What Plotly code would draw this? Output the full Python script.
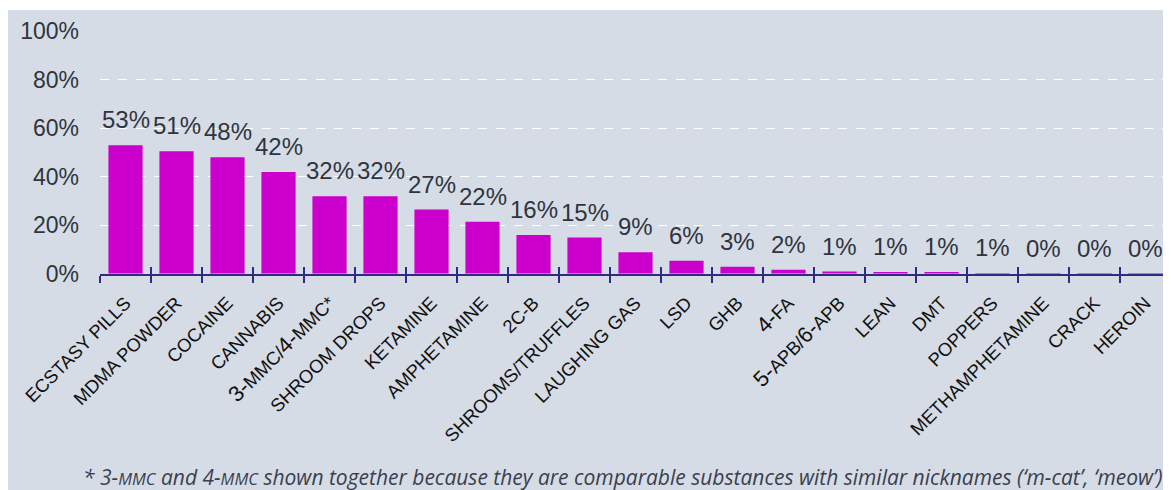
import plotly.graph_objects as go

categories = ["ECSTASY PILLS", "MDMA POWDER", "COCAINE", "CANNABIS", "3-MMC/4-MMC*",
              "SHROOM DROPS", "KETAMINE", "AMPHETAMINE", "2C-B", "SHROOMS/TRUFFLES",
              "LAUGHING GAS", "LSD", "GHB", "4-FA", "5-APB/6-APB", "LEAN", "DMT",
              "POPPERS", "METHAMPHETAMINE", "CRACK", "HEROIN"]
tick_labels = ["ECSTASY PILLS", "MDMA POWDER", "COCAINE", "CANNABIS",
               "<span style='font-size:22px'>3-</span>MMC/<span style='font-size:22px'>4-</span>MMC*",
               "SHROOM DROPS", "KETAMINE", "AMPHETAMINE", "2C-B", "SHROOMS/TRUFFLES",
               "LAUGHING GAS", "LSD", "GHB", "<span style='font-size:22px'>4-</span>FA",
               "<span style='font-size:22px'>5-</span>APB/<span style='font-size:22px'>6-</span>APB",
               "LEAN", "DMT", "POPPERS", "METHAMPHETAMINE", "CRACK", "HEROIN"]
values = [0.53, 0.505, 0.48, 0.42, 0.32, 0.32, 0.265, 0.215, 0.16, 0.15, 0.09, 0.055,
          0.03, 0.017, 0.01, 0.008, 0.007, 0.004, 0.0015, 0.001, 0.001]
value_labels = ["53%", "51%", "48%", "42%", "32%", "32%", "27%", "22%", "16%", "15%", "9%",
                "6%", "3%", "2%", "1%", "1%", "1%", "1%", "0%", "0%", "0%"]

BG = "#D6DCE5"
TXT = "#2E3440"
AXIS = "#2E2A86"

# figure coords (page has an 8px body margin)
W, H = 1163, 482
L, T, B = 92, 23, 216
PW, PH = W - L, H - T - B

fig = go.Figure()
fig.add_trace(go.Bar(
    x=categories, y=values,
    marker=dict(color="#CC00CC", line=dict(width=0)),
    hoverinfo="skip"))
# invisible trace on overlay axis for inside ticks
fig.add_trace(go.Bar(x=categories, y=[0]*len(categories), xaxis="x2",
                     marker=dict(color="rgba(0,0,0,0)"), showlegend=False,
                     hoverinfo="skip"))

for c, v, t in zip(categories, values, value_labels):
    fig.add_annotation(x=c, y=v, text=t, showarrow=False, yanchor="bottom",
                       xanchor="center", yshift=10,
                       font=dict(size=24, color=TXT, family="Liberation Sans, Arial"))

fig.update_layout(
    width=W, height=H,
    margin=dict(l=L, r=0, t=T, b=B),
    paper_bgcolor="white", plot_bgcolor=BG,
    bargap=0.33, showlegend=False,
    font=dict(family="Liberation Sans, Arial", color=TXT),
    xaxis=dict(type="category", tickmode="array", tickvals=categories, ticktext=tick_labels,
               tickangle=-45, tickfont=dict(size=18.5, color="#111111"),
               ticklabelstandoff=9,
               showline=True, linecolor=AXIS, linewidth=2,
               ticks="outside", ticklen=7, tickwidth=2, tickcolor=AXIS,
               tickson="boundaries", showgrid=False, zeroline=False,
               range=[-0.5, 20.5]),
    xaxis2=dict(type="category", overlaying="x", matches="x", ticks="inside", ticklen=7,
                tickwidth=2, tickcolor=AXIS, tickson="boundaries",
                showticklabels=False, showgrid=False, zeroline=False, showline=False),
    yaxis=dict(range=[0, 1.0], tickvals=[0, 0.2, 0.4, 0.6, 0.8, 1.0],
               ticktext=["0%", "20%", "40%", "60%", "80%", "100%"],
               tickfont=dict(size=23, color=TXT), ticks="", ticklabelstandoff=20,
               showgrid=True, gridcolor="white", griddash="dash", gridwidth=1.3,
               zeroline=False, showline=False),
)

# panel background
fig.add_shape(type="rect", xref="paper", yref="paper",
              x0=-L / PW, x1=1.01, y0=-(H - (T + PH)) / PH - 0.05, y1=(T + PH - 2) / PH,
              fillcolor=BG, line=dict(width=0), layer="below")

fig.add_annotation(
    xref="paper", yref="paper", x=(73 - L) / PW, y=-(469 - (T + PH)) / PH,
    xanchor="left", yanchor="middle", showarrow=False,
    text=("<i>* 3-<span style='font-size:16.5px'>MMC</span> and 4-<span style='font-size:16.5px'>MMC</span> "
          "shown together because they are comparable substances with similar nicknames "
          "(‘m-cat’, ‘meow’)</i>"),
    font=dict(family="Open Sans", size=21, color="#3A4050"))

fig.write_html("out.html")
